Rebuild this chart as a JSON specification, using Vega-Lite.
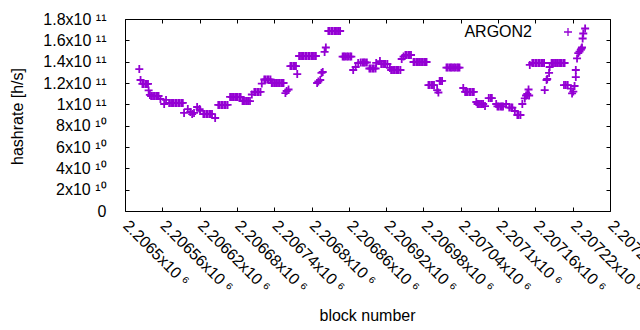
{
  "$schema": "https://vega.github.io/schema/vega-lite/v6.json",
  "width": 485,
  "height": 192,
  "autosize": {"type": "none"},
  "padding": {"left": 125, "top": 19, "right": 30, "bottom": 119},
  "data": {"values": [
    {"b":2206523,"h":1.331e11},{"b":2206525,"h":1.228e11},{"b":2206528,"h":1.191e11},{"b":2206530,"h":1.191e11},{"b":2206533,"h":1.191e11},{"b":2206535,"h":1.191e11},{"b":2206537,"h":1.191e11},{"b":2206538,"h":1.13e11},{"b":2206540,"h":1.088e11},
    {"b":2206542,"h":1.078e11},{"b":2206545,"h":1.078e11},{"b":2206547,"h":1.078e11},{"b":2206550,"h":1.078e11},{"b":2206552,"h":1.078e11},{"b":2206554,"h":1.078e11},{"b":2206557,"h":1.05e11},{"b":2206563,"h":1.003e11},{"b":2206566,"h":1.041e11},
    {"b":2206571,"h":1.013e11},{"b":2206574,"h":1.013e11},{"b":2206576,"h":1.013e11},{"b":2206578,"h":1.013e11},{"b":2206581,"h":1.013e11},{"b":2206583,"h":1.013e11},{"b":2206586,"h":1.013e11},{"b":2206588,"h":1.013e11},{"b":2206591,"h":1.013e11},{"b":2206593,"h":1.013e11},
    {"b":2206595,"h":9.19e10},{"b":2206601,"h":9.56e10},{"b":2206605,"h":9.28e10},{"b":2206608,"h":9.09e10},{"b":2206611,"h":9.19e10},{"b":2206616,"h":9.75e10},{"b":2206620,"h":9.56e10},{"b":2206621,"h":9.38e10},
    {"b":2206626,"h":9.09e10},{"b":2206628,"h":9.09e10},{"b":2206631,"h":9.09e10},{"b":2206633,"h":9.09e10},{"b":2206636,"h":9.09e10},{"b":2206638,"h":9.09e10},{"b":2206640,"h":9.09e10},{"b":2206645,"h":8.72e10},
    {"b":2206650,"h":9.94e10},{"b":2206652,"h":9.94e10},{"b":2206655,"h":9.94e10},{"b":2206657,"h":9.94e10},{"b":2206660,"h":9.94e10},{"b":2206662,"h":9.94e10},{"b":2206665,"h":9.94e10},
    {"b":2206669,"h":1.069e11},{"b":2206672,"h":1.069e11},{"b":2206674,"h":1.069e11},{"b":2206677,"h":1.069e11},{"b":2206679,"h":1.069e11},{"b":2206681,"h":1.069e11},{"b":2206684,"h":1.069e11},{"b":2206686,"h":1.069e11},
    {"b":2206689,"h":1.031e11},{"b":2206691,"h":1.031e11},{"b":2206693,"h":1.031e11},{"b":2206696,"h":1.031e11},{"b":2206698,"h":1.031e11},{"b":2206701,"h":1.031e11},{"b":2206704,"h":1.092e11},
    {"b":2206708,"h":1.116e11},{"b":2206710,"h":1.116e11},{"b":2206713,"h":1.116e11},{"b":2206715,"h":1.116e11},{"b":2206718,"h":1.116e11},{"b":2206720,"h":1.195e11},
    {"b":2206724,"h":1.233e11},{"b":2206726,"h":1.233e11},{"b":2206729,"h":1.233e11},{"b":2206731,"h":1.233e11},{"b":2206734,"h":1.233e11},
    {"b":2206736,"h":1.2e11},{"b":2206738,"h":1.2e11},{"b":2206741,"h":1.2e11},{"b":2206743,"h":1.2e11},{"b":2206746,"h":1.2e11},{"b":2206748,"h":1.2e11},{"b":2206751,"h":1.2e11},{"b":2206753,"h":1.2e11},{"b":2206755,"h":1.2e11},
    {"b":2206758,"h":1.106e11},{"b":2206760,"h":1.125e11},{"b":2206763,"h":1.139e11},
    {"b":2206766,"h":1.359e11},{"b":2206768,"h":1.359e11},{"b":2206771,"h":1.359e11},{"b":2206773,"h":1.359e11},{"b":2206775,"h":1.359e11},{"b":2206777,"h":1.284e11},
    {"b":2206780,"h":1.453e11},{"b":2206783,"h":1.453e11},{"b":2206785,"h":1.453e11},{"b":2206787,"h":1.453e11},{"b":2206790,"h":1.453e11},{"b":2206792,"h":1.453e11},{"b":2206795,"h":1.453e11},{"b":2206797,"h":1.453e11},{"b":2206800,"h":1.453e11},{"b":2206802,"h":1.453e11},{"b":2206804,"h":1.453e11},{"b":2206807,"h":1.453e11},
    {"b":2206809,"h":1.2e11},{"b":2206811,"h":1.214e11},{"b":2206814,"h":1.228e11},{"b":2206816,"h":1.294e11},{"b":2206818,"h":1.303e11},{"b":2206821,"h":1.491e11},{"b":2206823,"h":1.533e11},
    {"b":2206827,"h":1.6875e11},{"b":2206829,"h":1.6875e11},{"b":2206832,"h":1.6875e11},{"b":2206834,"h":1.6875e11},{"b":2206837,"h":1.6875e11},{"b":2206839,"h":1.6875e11},{"b":2206841,"h":1.6875e11},{"b":2206844,"h":1.6875e11},{"b":2206846,"h":1.6875e11},
    {"b":2206850,"h":1.448e11},{"b":2206852,"h":1.448e11},{"b":2206854,"h":1.448e11},{"b":2206857,"h":1.448e11},{"b":2206859,"h":1.448e11},{"b":2206862,"h":1.448e11},{"b":2206864,"h":1.448e11},
    {"b":2206867,"h":1.322e11},{"b":2206871,"h":1.35e11},{"b":2206875,"h":1.3875e11},
    {"b":2206879,"h":1.392e11},{"b":2206882,"h":1.392e11},{"b":2206884,"h":1.392e11},{"b":2206886,"h":1.392e11},{"b":2206889,"h":1.392e11},
    {"b":2206893,"h":1.336e11},{"b":2206895,"h":1.336e11},{"b":2206898,"h":1.336e11},{"b":2206900,"h":1.336e11},{"b":2206903,"h":1.336e11},{"b":2206904,"h":1.388e11},{"b":2206910,"h":1.406e11},
    {"b":2206912,"h":1.378e11},{"b":2206915,"h":1.378e11},{"b":2206917,"h":1.378e11},{"b":2206919,"h":1.378e11},{"b":2206922,"h":1.378e11},{"b":2206926,"h":1.341e11},
    {"b":2206928,"h":1.322e11},{"b":2206931,"h":1.322e11},{"b":2206933,"h":1.322e11},{"b":2206936,"h":1.322e11},{"b":2206938,"h":1.322e11},{"b":2206940,"h":1.322e11},{"b":2206943,"h":1.322e11},
    {"b":2206945,"h":1.425e11},{"b":2206948,"h":1.448e11},
    {"b":2206951,"h":1.4625e11},{"b":2206953,"h":1.4625e11},{"b":2206956,"h":1.4625e11},{"b":2206958,"h":1.4625e11},{"b":2206960,"h":1.4625e11},
    {"b":2206964,"h":1.397e11},{"b":2206966,"h":1.397e11},{"b":2206969,"h":1.397e11},{"b":2206971,"h":1.397e11},{"b":2206973,"h":1.397e11},{"b":2206976,"h":1.397e11},{"b":2206978,"h":1.397e11},{"b":2206981,"h":1.397e11},{"b":2206983,"h":1.397e11},{"b":2206985,"h":1.397e11},
    {"b":2206988,"h":1.181e11},{"b":2206990,"h":1.181e11},{"b":2206993,"h":1.181e11},{"b":2206995,"h":1.181e11},{"b":2206997,"h":1.181e11},{"b":2207002,"h":1.134e11},{"b":2207004,"h":1.111e11},
    {"b":2207006,"h":1.219e11},{"b":2207008,"h":1.219e11},{"b":2207010,"h":1.219e11},
    {"b":2207017,"h":1.345e11},{"b":2207019,"h":1.345e11},{"b":2207022,"h":1.345e11},{"b":2207024,"h":1.345e11},{"b":2207026,"h":1.345e11},{"b":2207029,"h":1.345e11},{"b":2207031,"h":1.345e11},{"b":2207034,"h":1.345e11},{"b":2207036,"h":1.345e11},{"b":2207038,"h":1.345e11},
    {"b":2207044,"h":1.153e11},
    {"b":2207047,"h":1.116e11},{"b":2207049,"h":1.116e11},{"b":2207051,"h":1.116e11},{"b":2207054,"h":1.116e11},{"b":2207056,"h":1.116e11},{"b":2207059,"h":1.116e11},{"b":2207061,"h":1.116e11},
    {"b":2207065,"h":1.022e11},
    {"b":2207067,"h":1.003e11},{"b":2207069,"h":1.003e11},{"b":2207071,"h":1.003e11},{"b":2207074,"h":1.003e11},{"b":2207076,"h":1.003e11},{"b":2207079,"h":9.84e10},
    {"b":2207085,"h":1.059e11},{"b":2207088,"h":1.059e11},{"b":2207090,"h":1.059e11},{"b":2207097,"h":1.003e11},
    {"b":2207099,"h":9.8e10},{"b":2207101,"h":9.8e10},{"b":2207104,"h":9.8e10},{"b":2207106,"h":9.8e10},{"b":2207108,"h":9.8e10},{"b":2207113,"h":1.003e11},
    {"b":2207118,"h":9.7e10},{"b":2207121,"h":9.7e10},{"b":2207123,"h":9.7e10},{"b":2207127,"h":9.375e10},
    {"b":2207131,"h":9.0e10},{"b":2207133,"h":9.0e10},{"b":2207136,"h":9.0e10},
    {"b":2207139,"h":1.003e11},{"b":2207143,"h":1.055e11},{"b":2207145,"h":1.083e11},{"b":2207147,"h":1.097e11},{"b":2207149,"h":1.139e11},{"b":2207150,"h":1.083e11},{"b":2207151,"h":1.369e11},
    {"b":2207155,"h":1.3875e11},{"b":2207157,"h":1.3875e11},{"b":2207160,"h":1.3875e11},{"b":2207162,"h":1.3875e11},{"b":2207165,"h":1.3875e11},{"b":2207167,"h":1.3875e11},{"b":2207170,"h":1.3875e11},{"b":2207172,"h":1.3875e11},{"b":2207174,"h":1.3875e11},
    {"b":2207175,"h":1.134e11},{"b":2207178,"h":1.228e11},{"b":2207179,"h":1.2375e11},{"b":2207182,"h":1.294e11},{"b":2207183,"h":1.35e11},
    {"b":2207186,"h":1.3875e11},{"b":2207188,"h":1.3875e11},{"b":2207190,"h":1.3875e11},{"b":2207193,"h":1.3875e11},{"b":2207195,"h":1.3875e11},{"b":2207198,"h":1.3875e11},{"b":2207200,"h":1.3875e11},{"b":2207202,"h":1.3875e11},{"b":2207205,"h":1.3875e11},{"b":2207207,"h":1.3875e11},
    {"b":2207206,"h":1.181e11},{"b":2207209,"h":1.181e11},{"b":2207212,"h":1.181e11},
    {"b":2207217,"h":1.148e11},{"b":2207219,"h":1.102e11},{"b":2207221,"h":1.12e11},{"b":2207223,"h":1.172e11},{"b":2207225,"h":1.256e11},{"b":2207225,"h":1.322e11},
    {"b":2207227,"h":1.43e11},{"b":2207229,"h":1.481e11},{"b":2207231,"h":1.495e11},{"b":2207233,"h":1.51e11},{"b":2207234,"h":1.523e11},{"b":2207235,"h":1.533e11},{"b":2207236,"h":1.617e11},{"b":2207237,"h":1.664e11},{"b":2207240,"h":1.711e11}
  ]},
  "layer": [
    {
      "mark": {"type": "point", "shape": "M-1,0H1M0,-1V1", "filled": false, "size": 64, "strokeWidth": 1.8, "opacity": 1},
      "encoding": {
        "x": {
          "field": "b", "type": "quantitative",
          "scale": {"domain": [2206500, 2207280], "nice": false, "zero": false},
          "axis": {
            "values": [2206500, 2206560, 2206620, 2206680, 2206740, 2206800, 2206860, 2206920, 2206980, 2207040, 2207100, 2207160, 2207220, 2207280],
            "labelExpr": "format(datum.value / 1000000, '.6~g') + 'x10 ⁶'",
            "labelAngle": 45, "labelAlign": "left", "labelBaseline": "top",
            "labelPadding": 10, "labelOffset": 6, "tickSize": -4, "labelOverlap": false, "labelFlush": false, "labelBound": false,
            "title": "block number", "titleX": 242, "titleY": 104, "titleBaseline": "middle", "titleAlign": "center"
          }
        },
        "y": {
          "field": "h", "type": "quantitative",
          "scale": {"domain": [0, 180000000000], "nice": false, "zero": true},
          "axis": {
            "values": [0, 20000000000, 40000000000, 60000000000, 80000000000, 100000000000, 120000000000, 140000000000, 160000000000, 180000000000],
            "labelExpr": "datum.value == 0 ? '0' : format(datum.value / pow(10, floor(log(datum.value) / LN10 + 1e-9)), '.6~g') + 'x10 ' + (floor(log(datum.value) / LN10 + 1e-9) == 11 ? '¹¹' : '¹⁰')",
            "labelPadding": 23, "tickSize": -4, "labelOverlap": false, "labelFlush": false, "labelBound": false,
            "title": "hashrate [h/s]", "titleX": -108, "titleY": 97, "titleAngle": -90, "titleBaseline": "middle", "titleAlign": "center"
          }
        },
        "color": {
          "datum": "ARGON2", "type": "nominal",
          "scale": {"range": ["#9400d3"]},
          "legend": {
            "title": null, "orient": "none", "legendX": 435, "legendY": 5,
            "symbolType": "M-1,0H1M0,-1V1", "symbolSize": 64, "symbolStrokeWidth": 1.3, "symbolFillColor": "transparent",
            "labelAlign": "right", "labelOffset": -44, "labelFontSize": 16, "labelFont": "Liberation Sans", "labelColor": "black", "padding": 0
          }
        }
      }
    },
    {
      "mark": {"type": "point", "opacity": 0},
      "encoding": {
        "x": {
          "field": "b", "type": "quantitative",
          "axis": {"orient": "top", "labels": false, "title": null, "tickSize": -4,
            "values": [2206500, 2206560, 2206620, 2206680, 2206740, 2206800, 2206860, 2206920, 2206980, 2207040, 2207100, 2207160, 2207220, 2207280]}
        },
        "y": {
          "field": "h", "type": "quantitative",
          "axis": {"orient": "right", "labels": false, "title": null, "tickSize": -4,
            "values": [0, 20000000000, 40000000000, 60000000000, 80000000000, 100000000000, 120000000000, 140000000000, 160000000000, 180000000000]}
        }
      }
    }
  ],
  "resolve": {"axis": {"x": "independent", "y": "independent"}},
  "config": {
    "view": {"stroke": "black", "strokeWidth": 1},
    "axis": {
      "grid": false, "domain": false, "tickColor": "black", "tickWidth": 1,
      "labelColor": "black", "labelFont": "Liberation Sans", "labelFontSize": 16,
      "titleColor": "black", "titleFont": "Liberation Sans", "titleFontSize": 16, "titleFontWeight": "normal"
    }
  }
}
